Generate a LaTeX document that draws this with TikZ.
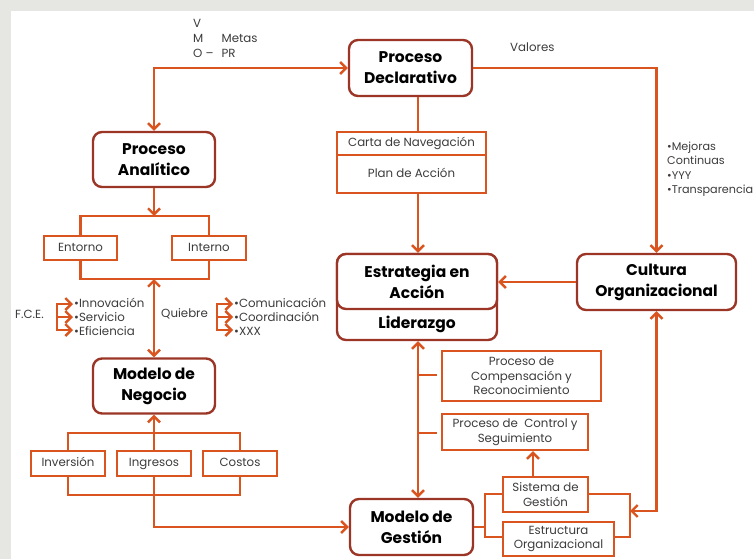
\documentclass[tikz,border=0pt]{standalone}
\usepackage{fontspec}
\setmainfont{Poppins}
\usetikzlibrary{arrows.meta,calc}
\definecolor{lineor}{HTML}{D9541E}
\definecolor{boxred}{HTML}{9B3526}
\definecolor{txtgray}{HTML}{3C3C3C}
\definecolor{paper}{HTML}{E6E6E2}
\begin{document}
\begin{tikzpicture}[x=1pt,y=-1pt,
  conn/.style={draw=lineor,line width=2.6pt},
  tip/.style={-{Straight Barb[length=6pt,width=12pt,line width=2.4pt]}},
  twotip/.style={{Straight Barb[length=6pt,width=12pt,line width=2.4pt]}-{Straight Barb[length=6pt,width=12pt,line width=2.4pt]}},
  mainbox/.style={draw=boxred,line width=2.4pt,rounded corners=9pt,fill=white,
    align=center,inner sep=0pt,font=\fontsize{15.5}{21}\selectfont\bfseries,text=black},
  smallbox/.style={draw=lineor,line width=2.4pt,fill=white,align=center,inner sep=0pt,
    font=\fontsize{11.8}{14.5}\selectfont,text=txtgray},
  oneline/.style={text height=8.8pt,text depth=2.6pt},
  note/.style={font=\fontsize{11.8}{14.2}\selectfont,text=txtgray,align=left,inner sep=0pt}]
% page and background
\useasboundingbox (0,0) rectangle (754,559);
\fill[paper] (0,0) rectangle (754,559);
\fill[white] (11,11) rectangle (754,559);

% main boxes
\node[mainbox,minimum width=123pt,minimum height=56pt] (declarativo) at (410.5,68) {Proceso\\Declarativo};
\node[mainbox,minimum width=122pt,minimum height=55pt] (analitico) at (154,159.5) {Proceso\\Analítico};
\node[mainbox,minimum width=160pt,minimum height=86pt] (estrategia) at (417,297) {};
\node[mainbox,minimum width=160pt,minimum height=55pt] (estrtop) at (417,281.5) {Estrategia en\\Acción};
\node[font=\fontsize{15.5}{21}\selectfont\bfseries,inner sep=0pt] (liderazgo) at (417,324) {Liderazgo};
\node[mainbox,minimum width=159pt,minimum height=56pt] (cultura) at (656.5,282) {Cultura\\Organizacional};
\node[mainbox,minimum width=122pt,minimum height=55pt] (negocio) at (154,386) {Modelo de\\Negocio};
\node[mainbox,minimum width=123pt,minimum height=56pt] (gestion) at (411.5,527) {Modelo de\\Gestión};

% small boxes
\node[smallbox,oneline,minimum width=149pt,minimum height=23pt] (carta) at (411.5,143.5) {Carta de Navegación};
\node[smallbox,oneline,minimum width=149pt,minimum height=38pt] (plan) at (411.5,174) {Plan de Acción};
\node[smallbox,oneline,minimum width=73pt,minimum height=24pt] (entorno) at (80.5,248) {Entorno};
\node[smallbox,oneline,minimum width=74pt,minimum height=24pt] (interno) at (209,248) {Interno};
\node[smallbox,oneline,minimum width=74pt,minimum height=25pt] (inversion) at (68,463.5) {Inversión};
\node[smallbox,oneline,minimum width=74pt,minimum height=25pt] (ingresos) at (154,463.5) {Ingresos};
\node[smallbox,oneline,minimum width=74pt,minimum height=25pt] (costos) at (240,463.5) {Costos};
\node[smallbox,minimum width=159pt,minimum height=50pt] (compensacion) at (521.5,376) {Proceso de\\Compensación y\\Reconocimiento};
\node[smallbox,minimum width=146pt,minimum height=36pt] (control) at (515,432) {Proceso de \ Control y\\Seguimiento};
\node[smallbox,minimum width=85pt,minimum height=35pt] (sistema) at (545.5,494.5) {Sistema de\\Gestión};
\node[smallbox,minimum width=111pt,minimum height=34pt] (estructura) at (558.5,539) {Estructura\\Organizacional};

% labels
\node[note,anchor=north west] (vmo) at (193,17.5) {\begin{tabular}{@{}l@{\hspace{8pt}}l@{}}V & \\[0.8pt] M & Metas\\[0.8pt] O – & PR\end{tabular}};
\node[note,anchor=west] (valores) at (510,47) {Valores};
\node[note,anchor=north west,font=\fontsize{11.2}{14.2}\selectfont] (mejoras) at (667,142) {•Mejoras\\Continuas\\•YYY\\•Transparencia};
\node[note,anchor=west] (fce) at (15,314) {F.C.E.};
\node[note,anchor=north west] (fcelist) at (74,298) {•Innovación\\•Servicio\\•Eficiencia};
\node[note,anchor=west] (quiebre) at (161,314) {Quiebre};
\node[note,anchor=north west] (quiebrelist) at (234,298) {•Comunicación\\•Coordinación\\•XXX};

% junction points
\coordinate (aj) at (154,216);
\coordinate (ab) at (154,279);
\coordinate (nt) at (154,433);
\coordinate (nb) at (154,495);
\coordinate (gl) at (485,527);
\coordinate (gr) at (630,511);
\coordinate (b1) at (418,375);
\coordinate (b2) at (418,433);

% top flow
\draw[conn,twotip] (analitico.north) |- (declarativo.west);
\draw[conn,tip] (declarativo.east) -| (cultura.north);
\draw[conn] (declarativo.south -| b1) -- (carta.north -| b1);
\draw[conn,tip] (plan.south -| b1) -- (estrategia.north -| b1);
\draw[conn,tip] (cultura.west) -- (cultura.west -| estrategia.east);

% analytic branch
\draw[conn,tip] (analitico.south) -- (aj);
\draw[conn] (entorno.north) |- (aj) -| (interno.north);
\draw[conn] (entorno.south) |- (ab) -| (interno.south);
\draw[conn,twotip] (ab) -- (negocio.north);

% F.C.E. and Quiebre arrows
\foreach \yy in {304,317,330}{
  \draw[conn,tip,line width=2.4pt] (57,\yy) -- (73,\yy);
  \draw[conn,tip,line width=2.4pt] (217,\yy) -- (233,\yy);
}
\draw[conn,line width=2.4pt] (57,303) -- (57,331);
\draw[conn,line width=2.4pt] (217,303) -- (217,331);

% business model branch
\draw[conn,tip] (nt) -- (negocio.south);
\draw[conn] (inversion.north) |- (nt) -| (costos.north);
\draw[conn] (nt) -- (ingresos.north);
\draw[conn] (inversion.south) |- (nb) -| (costos.south);
\draw[conn,tip] (ingresos.south) |- (gestion.west);

% strategy to management
\draw[conn,twotip] (estrategia.south -| b1) -- (gestion.north -| b1);
\draw[conn] (b1) -- (437,375);
\draw[conn] (b2) -- (437,433);
\draw[conn,tip] (sistema.north -| 533,0) -- (control.south -| 533,0);

% management brackets
\draw[conn] (gestion.east |- gl) -- (gl);
\draw[conn] (sistema.west |- 0,494) -| (gl) |- (estructura.west |- 0,537);
\draw[conn] (sistema.east |- 0,494) -| (gr) |- (estructura.east |- 0,537);
\draw[conn,twotip] (gr) -| (cultura.south);
\end{tikzpicture}
\end{document}
